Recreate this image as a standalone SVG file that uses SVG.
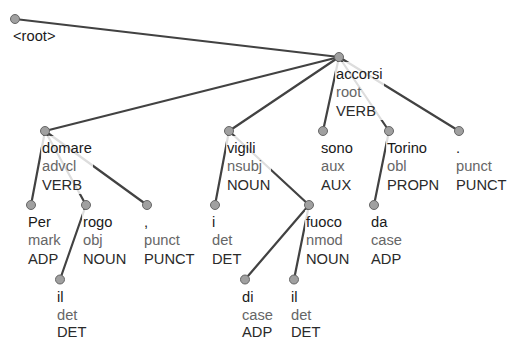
<svg xmlns="http://www.w3.org/2000/svg" width="507" height="340" viewBox="0 0 507 340">
<style>
text{font-family:"Liberation Sans",Arial,sans-serif;font-size:14.7px}
.w{fill:#1a1a1a}
.r{fill:#666}
.p{fill:#2a2a2a}
.bg{fill:#fff;fill-opacity:0.82}
.n{fill:#a0a0a0;stroke:#666;stroke-width:1}
#edges line{stroke:#424242;stroke-width:2.2;stroke-linecap:round}
</style>
<rect width="507" height="340" fill="#fff"/>
<g id="edges">
<line x1="15" y1="19" x2="339" y2="57"/>
<line x1="339" y1="57" x2="45" y2="131"/>
<line x1="339" y1="57" x2="229" y2="131"/>
<line x1="339" y1="57" x2="323" y2="131"/>
<line x1="339" y1="57" x2="389" y2="131"/>
<line x1="339" y1="57" x2="459" y2="131"/>
<line x1="45" y1="131" x2="31" y2="205"/>
<line x1="45" y1="131" x2="86" y2="205"/>
<line x1="45" y1="131" x2="147" y2="205"/>
<line x1="86" y1="205" x2="60" y2="279.5"/>
<line x1="229" y1="131" x2="215" y2="205"/>
<line x1="229" y1="131" x2="309" y2="205"/>
<line x1="309" y1="205" x2="245" y2="279.5"/>
<line x1="309" y1="205" x2="294" y2="279.5"/>
<line x1="389" y1="131" x2="374" y2="205"/>
</g>
<g id="n-root">
<circle class="n" cx="15" cy="19" r="4.5"/>
<text class="w" x="13" y="40.5">&lt;root&gt;</text>
</g>
<g id="n-accorsi">
<rect class="bg" x="335" y="62" width="49" height="58"/>
<text class="w" x="336" y="79">accorsi</text>
<text class="r" x="336" y="97">root</text>
<text class="p" x="336" y="115.5">VERB</text>
<circle class="n" cx="339" cy="57" r="4.5"/>
</g>
<g id="n-domare">
<rect class="bg" x="41" y="136" width="52" height="58"/>
<text class="w" x="42" y="153">domare</text>
<text class="r" x="42" y="171">advcl</text>
<text class="p" x="42" y="189.5">VERB</text>
<circle class="n" cx="45" cy="131" r="4.5"/>
</g>
<g id="n-vigili">
<rect class="bg" x="226" y="136" width="45" height="58"/>
<text class="w" x="227" y="153">vigili</text>
<text class="r" x="227" y="171">nsubj</text>
<text class="p" x="227" y="189.5">NOUN</text>
<circle class="n" cx="229" cy="131" r="4.5"/>
</g>
<g id="n-sono">
<rect class="bg" x="320" y="136" width="34" height="58"/>
<text class="w" x="321" y="153">sono</text>
<text class="r" x="321" y="171">aux</text>
<text class="p" x="321" y="189.5">AUX</text>
<circle class="n" cx="323" cy="131" r="4.5"/>
</g>
<g id="n-Torino">
<rect class="bg" x="386" y="136" width="54" height="58"/>
<text class="w" x="387" y="153">Torino</text>
<text class="r" x="387" y="171">obl</text>
<text class="p" x="387" y="189.5">PROPN</text>
<circle class="n" cx="389" cy="131" r="4.5"/>
</g>
<g id="n-period">
<rect class="bg" x="455" y="136" width="52" height="58"/>
<text class="w" x="456" y="153">.</text>
<text class="r" x="456" y="171">punct</text>
<text class="p" x="456" y="189.5">PUNCT</text>
<circle class="n" cx="459" cy="131" r="4.5"/>
</g>
<g id="n-Per">
<rect class="bg" x="27" y="210" width="35" height="58"/>
<text class="w" x="28" y="227">Per</text>
<text class="r" x="28" y="245">mark</text>
<text class="p" x="28" y="263.5">ADP</text>
<circle class="n" cx="31" cy="205" r="4.5"/>
</g>
<g id="n-rogo">
<rect class="bg" x="82" y="210" width="45" height="58"/>
<text class="w" x="83" y="227">rogo</text>
<text class="r" x="83" y="245">obj</text>
<text class="p" x="83" y="263.5">NOUN</text>
<circle class="n" cx="86" cy="205" r="4.5"/>
</g>
<g id="n-comma">
<rect class="bg" x="143" y="210" width="52" height="58"/>
<text class="w" x="144" y="227">,</text>
<text class="r" x="144" y="245">punct</text>
<text class="p" x="144" y="263.5">PUNCT</text>
<circle class="n" cx="147" cy="205" r="4.5"/>
</g>
<g id="n-i">
<rect class="bg" x="211" y="210" width="31" height="58"/>
<text class="w" x="212" y="227">i</text>
<text class="r" x="212" y="245">det</text>
<text class="p" x="212" y="263.5">DET</text>
<circle class="n" cx="215" cy="205" r="4.5"/>
</g>
<g id="n-fuoco">
<rect class="bg" x="305" y="210" width="45" height="58"/>
<text class="w" x="306" y="227">fuoco</text>
<text class="r" x="306" y="245">nmod</text>
<text class="p" x="306" y="263.5">NOUN</text>
<circle class="n" cx="309" cy="205" r="4.5"/>
</g>
<g id="n-da">
<rect class="bg" x="370" y="210" width="33" height="58"/>
<text class="w" x="371" y="227">da</text>
<text class="r" x="371" y="245">case</text>
<text class="p" x="371" y="263.5">ADP</text>
<circle class="n" cx="374" cy="205" r="4.5"/>
</g>
<g id="n-il1">
<rect class="bg" x="56" y="284.5" width="31" height="55"/>
<text class="w" x="57" y="301.5">il</text>
<text class="r" x="57" y="319.5">det</text>
<text class="p" x="57" y="337">DET</text>
<circle class="n" cx="60" cy="279.5" r="4.5"/>
</g>
<g id="n-di">
<rect class="bg" x="241" y="284.5" width="33" height="55"/>
<text class="w" x="242" y="301.5">di</text>
<text class="r" x="242" y="319.5">case</text>
<text class="p" x="242" y="337">ADP</text>
<circle class="n" cx="245" cy="279.5" r="4.5"/>
</g>
<g id="n-il2">
<rect class="bg" x="290" y="284.5" width="31" height="55"/>
<text class="w" x="291" y="301.5">il</text>
<text class="r" x="291" y="319.5">det</text>
<text class="p" x="291" y="337">DET</text>
<circle class="n" cx="294" cy="279.5" r="4.5"/>
</g>
</svg>
